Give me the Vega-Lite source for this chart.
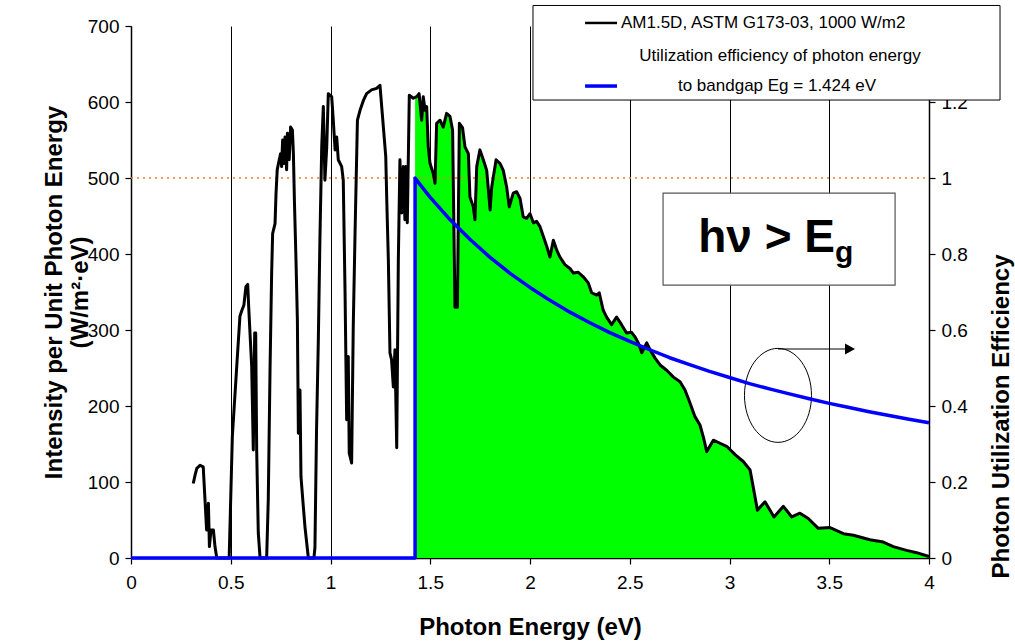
{
  "$schema": "https://vega.github.io/schema/vega-lite/v6.json",
  "width": 798,
  "height": 532,
  "autosize": {"type": "none"},
  "padding": {"left": 131, "top": 26, "right": 86, "bottom": 85},
  "background": "white",
  "config": {
    "font": "Liberation Sans",
    "view": {"stroke": null},
    "axis": {
      "labelFont": "Liberation Sans", "labelFontSize": 19, "labelColor": "#000",
      "titleFont": "Liberation Sans", "titleFontSize": 24, "titleFontWeight": "bold", "titleColor": "#000",
      "domainColor": "#000", "domainWidth": 1.5, "tickColor": "#000", "tickWidth": 1.2, "tickSize": 6
    }
  },
  "datasets": {
    "spec": [
      {"x":0.312,"y":98},{"x":0.322,"y":110},{"x":0.33,"y":118},{"x":0.346,"y":122},{"x":0.362,"y":120},{"x":0.371,"y":76},{"x":0.379,"y":37},{"x":0.388,"y":72},{"x":0.393,"y":15},{"x":0.401,"y":37},{"x":0.413,"y":37},{"x":0.421,"y":15},{"x":0.43,"y":0},{"x":0.492,"y":0},
      {"x":0.508,"y":160},{"x":0.53,"y":252},{"x":0.546,"y":318},{"x":0.556,"y":326},{"x":0.566,"y":333},{"x":0.576,"y":357},{"x":0.585,"y":360},{"x":0.59,"y":330},{"x":0.605,"y":252},{"x":0.613,"y":142},{"x":0.62,"y":296},{"x":0.625,"y":296},{"x":0.63,"y":142},{"x":0.638,"y":33},{"x":0.647,"y":0},{"x":0.68,"y":0},
      {"x":0.688,"y":76},{"x":0.697,"y":250},{"x":0.705,"y":375},{"x":0.71,"y":427},{"x":0.722,"y":440},{"x":0.727,"y":480},{"x":0.733,"y":511},{"x":0.743,"y":524},{"x":0.75,"y":532},{"x":0.755,"y":515},{"x":0.76,"y":550},{"x":0.767,"y":519},{"x":0.772,"y":554},{"x":0.78,"y":511},{"x":0.784,"y":559},{"x":0.793,"y":524},{"x":0.8,"y":567},{"x":0.809,"y":563},{"x":0.814,"y":532},{"x":0.819,"y":471},{"x":0.827,"y":392},{"x":0.834,"y":313},{"x":0.839,"y":164},{"x":0.847,"y":221},{"x":0.852,"y":107},{"x":0.864,"y":67},{"x":0.872,"y":41},{"x":0.889,"y":0},{"x":0.917,"y":0},
      {"x":0.922,"y":14},{"x":0.93,"y":168},{"x":0.939,"y":287},{"x":0.947,"y":420},{"x":0.956,"y":541},{"x":0.964,"y":594},{"x":0.972,"y":497},{"x":0.981,"y":540},{"x":0.989,"y":611},{"x":0.997,"y":609},{"x":1.006,"y":607},{"x":1.014,"y":576},{"x":1.023,"y":537},{"x":1.031,"y":554},{"x":1.039,"y":524},{"x":1.056,"y":515},{"x":1.064,"y":497},{"x":1.073,"y":348},{"x":1.081,"y":182},{"x":1.089,"y":265},{"x":1.094,"y":138},{"x":1.106,"y":125},{"x":1.114,"y":304},{"x":1.123,"y":427},{"x":1.135,"y":576},{"x":1.148,"y":589},{"x":1.165,"y":602},{"x":1.181,"y":611},{"x":1.206,"y":616},{"x":1.231,"y":618},{"x":1.248,"y":622},{"x":1.265,"y":567},{"x":1.277,"y":528},{"x":1.282,"y":471},{"x":1.29,"y":392},{"x":1.298,"y":270},{"x":1.306,"y":261},{"x":1.315,"y":225},{"x":1.323,"y":274},{"x":1.332,"y":145},{"x":1.34,"y":392},{"x":1.348,"y":524},{"x":1.357,"y":454},{"x":1.365,"y":515},{"x":1.373,"y":445},{"x":1.378,"y":515},{"x":1.385,"y":441},{"x":1.395,"y":609},{"x":1.415,"y":605},
      {"x":1.424,"y":606},{"x":1.432,"y":607},{"x":1.444,"y":611},{"x":1.449,"y":598},{"x":1.457,"y":576},{"x":1.465,"y":607},{"x":1.474,"y":589},{"x":1.482,"y":594},{"x":1.49,"y":541},{"x":1.499,"y":519},{"x":1.515,"y":506},{"x":1.524,"y":493},{"x":1.532,"y":572},{"x":1.549,"y":576},{"x":1.565,"y":567},{"x":1.582,"y":585},{"x":1.599,"y":581},{"x":1.612,"y":563},{"x":1.624,"y":330},{"x":1.636,"y":330},{"x":1.646,"y":572},{"x":1.662,"y":566},{"x":1.674,"y":541},{"x":1.691,"y":532},{"x":1.699,"y":475},{"x":1.716,"y":462},{"x":1.724,"y":445},{"x":1.733,"y":515},{"x":1.749,"y":537},{"x":1.766,"y":524},{"x":1.783,"y":510},{"x":1.8,"y":458},{"x":1.808,"y":488},{"x":1.83,"y":524},{"x":1.85,"y":519},{"x":1.866,"y":510},{"x":1.883,"y":488},{"x":1.896,"y":462},{"x":1.916,"y":480},{"x":1.933,"y":482},{"x":1.95,"y":473},{"x":1.966,"y":449},{"x":1.983,"y":447},{"x":2.0,"y":453},{"x":2.017,"y":441},{"x":2.033,"y":443},{"x":2.05,"y":436},{"x":2.067,"y":423},{"x":2.084,"y":410},{"x":2.1,"y":396},{"x":2.117,"y":418},{"x":2.134,"y":405},{"x":2.15,"y":396},{"x":2.175,"y":386},{"x":2.2,"y":381},{"x":2.217,"y":375},{"x":2.242,"y":376},{"x":2.267,"y":370},{"x":2.292,"y":362},{"x":2.309,"y":349},{"x":2.334,"y":346},{"x":2.347,"y":349},{"x":2.367,"y":326},{"x":2.384,"y":317},{"x":2.409,"y":307},{"x":2.434,"y":317},{"x":2.459,"y":307},{"x":2.484,"y":296},{"x":2.509,"y":297},{"x":2.526,"y":291},{"x":2.543,"y":283},{"x":2.56,"y":270},{"x":2.585,"y":283},{"x":2.602,"y":274},{"x":2.627,"y":263},{"x":2.652,"y":254},{"x":2.685,"y":247},{"x":2.719,"y":238},{"x":2.752,"y":232},{"x":2.777,"y":221},{"x":2.802,"y":204},{"x":2.827,"y":186},{"x":2.852,"y":175},{"x":2.869,"y":159},{"x":2.886,"y":140},{"x":2.919,"y":155},{"x":2.952,"y":151},{"x":2.986,"y":147},{"x":3.028,"y":136},{"x":3.069,"y":127},{"x":3.103,"y":116},{"x":3.14,"y":63},{"x":3.178,"y":74},{"x":3.223,"y":54},{"x":3.27,"y":68},{"x":3.312,"y":54},{"x":3.353,"y":59},{"x":3.395,"y":52},{"x":3.445,"y":39},{"x":3.504,"y":40},{"x":3.571,"y":32},{"x":3.621,"y":30},{"x":3.704,"y":24},{"x":3.771,"y":21},{"x":3.821,"y":15},{"x":3.888,"y":10},{"x":3.938,"y":7},{"x":4.0,"y":2}
    ],
    "eff": [
      {"i":0,"x":0,"y":0},{"i":1,"x":1.424,"y":0},{"i":2,"x":1.424,"y":1.0},{"i":3,"x":1.45,"y":0.982},{"i":4,"x":1.5,"y":0.949},{"i":5,"x":1.6,"y":0.89},{"i":6,"x":1.7,"y":0.838},{"i":7,"x":1.8,"y":0.791},{"i":8,"x":1.9,"y":0.749},{"i":9,"x":2.0,"y":0.712},{"i":10,"x":2.1,"y":0.678},{"i":11,"x":2.2,"y":0.647},{"i":12,"x":2.3,"y":0.619},{"i":13,"x":2.4,"y":0.593},{"i":14,"x":2.5,"y":0.57},{"i":15,"x":2.6,"y":0.548},{"i":16,"x":2.7,"y":0.527},{"i":17,"x":2.8,"y":0.509},{"i":18,"x":2.9,"y":0.491},{"i":19,"x":3.0,"y":0.475},{"i":20,"x":3.1,"y":0.459},{"i":21,"x":3.2,"y":0.445},{"i":22,"x":3.3,"y":0.432},{"i":23,"x":3.4,"y":0.419},{"i":24,"x":3.5,"y":0.407},{"i":25,"x":3.6,"y":0.396},{"i":26,"x":3.7,"y":0.385},{"i":27,"x":3.8,"y":0.375},{"i":28,"x":3.9,"y":0.365},{"i":29,"x":4.0,"y":0.356}
    ]
  },
  "encoding": {
    "x": {
      "field": "x", "type": "quantitative",
      "scale": {"domain": [0, 4], "nice": false, "zero": false},
      "axis": {
        "values": [0, 0.5, 1, 1.5, 2, 2.5, 3, 3.5, 4], "format": "~g",
        "title": "Photon Energy  (eV)", "titlePadding": 23,
        "grid": true, "gridColor": "#000", "gridWidth": 1, "gridOpacity": 1,
        "labelPadding": 9, "labelFlush": false
      }
    }
  },
  "layer": [
    {
      "encoding": {
        "y": {
          "field": "y", "type": "quantitative",
          "scale": {"domain": [0, 700], "nice": false},
          "axis": {
            "values": [0, 100, 200, 300, 400, 500, 600, 700],
            "title": ["Intensity per Unit Photon Energy", "(W/m²·eV)"],
            "titleLineHeight": 26, "titlePadding": -5, "labelPadding": 6, "grid": false
          }
        }
      },
      "layer": [
        {"data": {"name": "spec"}, "transform": [{"filter": "datum.x >= 1.424"}],
         "mark": {"type": "area", "color": "#00ff00", "opacity": 1}},
        {"data": {"values": [{"x": 0, "x2": 4, "y": 500}]},
         "mark": {"type": "rule", "color": "#f47a20", "strokeWidth": 1.6, "strokeDash": [2, 4]},
         "encoding": {"x2": {"field": "x2"}}},
        {"data": {"name": "spec"},
         "mark": {"type": "line", "color": "#000", "strokeWidth": 3, "strokeJoin": "round"}},
        {"data": {"values": [{"x": 2.667, "x2": 3.83, "y": 359, "y2": 480}]},
         "mark": {"type": "rect", "fill": "#fff", "stroke": "#555", "strokeWidth": 1.2},
         "encoding": {"x2": {"field": "x2"}, "y2": {"field": "y2"}}},
        {"data": {"values": [{"x": 3.529, "y": 402.6, "t": "hν > E"}]},
         "mark": {"type": "text", "align": "right", "baseline": "alphabetic", "fontSize": 46, "fontWeight": "bold", "font": "Liberation Sans", "color": "#000"},
         "encoding": {"text": {"field": "t"}}},
        {"data": {"values": [{"x": 3.529, "y": 389.5, "t": "g"}]},
         "mark": {"type": "text", "align": "left", "baseline": "alphabetic", "fontSize": 30, "fontWeight": "bold", "font": "Liberation Sans", "color": "#000"},
         "encoding": {"text": {"field": "t"}}},
        {"data": {"values": [{"x": 3.243, "y": 214}]},
         "mark": {"type": "point", "shape": "M -1 0 C -1 -0.775 -0.552 -1.403 0 -1.403 C 0.552 -1.403 1 -0.775 1 0 C 1 0.775 0.552 1.403 0 1.403 C -0.552 1.403 -1 0.775 -1 0 Z", "size": 4489, "filled": false, "color": "#000", "strokeWidth": 1, "opacity": 1}},
        {"data": {"values": [{"x": 3.243, "x2": 3.59, "y": 275}]},
         "mark": {"type": "rule", "color": "#000", "strokeWidth": 1},
         "encoding": {"x2": {"field": "x2"}}},
        {"data": {"values": [{"x": 3.604, "y": 275}]},
         "mark": {"type": "point", "shape": "M -1 -1.1 L 1 0 L -1 1.1 Z", "size": 100, "filled": true, "color": "#000", "opacity": 1}},
        {"data": {"values": [{"x": 2.015, "x2": 4.356, "y": 602.6, "y2": 727}]},
         "mark": {"type": "rect", "fill": "#fff", "stroke": "#000", "strokeWidth": 1},
         "encoding": {"x2": {"field": "x2"}, "y2": {"field": "y2"}}},
        {"data": {"values": [{"x": 2.276, "x2": 2.436, "y": 704}]},
         "mark": {"type": "rule", "color": "#000", "strokeWidth": 2.5},
         "encoding": {"x2": {"field": "x2"}}},
        {"data": {"values": [{"x": 2.276, "x2": 2.436, "y": 621}]},
         "mark": {"type": "rule", "color": "#0000ff", "strokeWidth": 3.5},
         "encoding": {"x2": {"field": "x2"}}},
        {"data": {"values": [{"x": 2.456, "y": 704, "t": "AM1.5D, ASTM G173-03, 1000 W/m2"}]},
         "mark": {"type": "text", "align": "left", "baseline": "middle", "fontSize": 17, "font": "Liberation Sans", "color": "#000"},
         "encoding": {"text": {"field": "t"}}},
        {"data": {"values": [{"x": 3.253, "y": 660.5, "t": "Utilization efficiency of photon energy"}, {"x": 3.238, "y": 621, "t": "to bandgap Eg = 1.424 eV"}]},
         "mark": {"type": "text", "align": "center", "baseline": "middle", "fontSize": 17, "font": "Liberation Sans", "color": "#000"},
         "encoding": {"text": {"field": "t"}}}
      ]
    },
    {
      "data": {"name": "eff"},
      "mark": {"type": "line", "color": "#0000ff", "strokeWidth": 3.5, "strokeJoin": "round"},
      "encoding": {
        "y": {
          "field": "y", "type": "quantitative",
          "scale": {"domain": [0, 1.4], "nice": false},
          "axis": {
            "orient": "right", "values": [0, 0.2, 0.4, 0.6, 0.8, 1, 1.2, 1.4], "format": "~g",
            "title": "Photon Utilization Efficiency", "titleAngle": 270, "titleY": 390,
            "titlePadding": 46, "labelPadding": 6, "grid": false
          }
        },
        "order": {"field": "i", "type": "quantitative"}
      }
    }
  ],
  "resolve": {"scale": {"y": "independent"}}
}
